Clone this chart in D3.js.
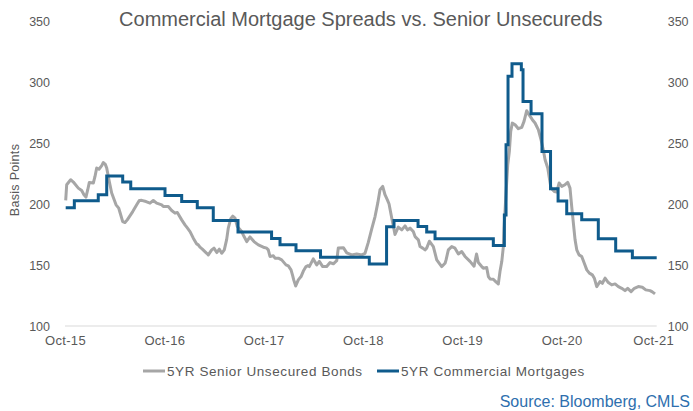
<!DOCTYPE html>
<html>
<head>
<meta charset="utf-8">
<script src="https://cdn.jsdelivr.net/npm/d3@7"></script>
<style>
  body { margin: 0; background: #fff; }
  svg { display: block; font-family: "Liberation Sans", Arial, sans-serif; }
</style>
</head>
<body>
<div id="chart"></div>
<script>
// dates are decimal years (2015.75 = Oct-15)
const unsecuredDates = [2015.757, 2015.767, 2015.807, 2015.834, 2015.884, 2015.918, 2015.941, 2015.961, 2015.979, 2015.995,
  2016.035, 2016.052, 2016.069, 2016.092, 2016.120, 2016.136, 2016.156, 2016.170, 2016.196, 2016.220,
  2016.264, 2016.291, 2016.304, 2016.331, 2016.354, 2016.377, 2016.432, 2016.472, 2016.498, 2016.522,
  2016.566, 2016.606, 2016.639, 2016.673, 2016.724, 2016.740, 2016.790, 2016.824, 2016.858, 2016.881,
  2016.925, 2016.958, 2016.976, 2017.009, 2017.042, 2017.076, 2017.092, 2017.109, 2017.133, 2017.177,
  2017.193, 2017.227, 2017.250, 2017.278, 2017.304, 2017.328, 2017.354, 2017.378, 2017.394, 2017.419,
  2017.439, 2017.462, 2017.485, 2017.529, 2017.553, 2017.580, 2017.613, 2017.653, 2017.697, 2017.747,
  2017.781, 2017.797, 2017.814, 2017.848, 2017.865, 2017.898, 2017.932, 2017.975, 2017.999, 2018.026,
  2018.043, 2018.053, 2018.073, 2018.099, 2018.127, 2018.150, 2018.177, 2018.197, 2018.210, 2018.250,
  2018.285, 2018.311, 2018.345, 2018.385, 2018.419, 2018.452, 2018.486, 2018.502, 2018.553, 2018.587,
  2018.637, 2018.687, 2018.738, 2018.771, 2018.804, 2018.838, 2018.872, 2018.899, 2018.922, 2018.949,
  2018.972, 2018.996, 2019.013, 2019.040, 2019.073, 2019.106, 2019.141, 2019.174, 2019.197, 2019.224,
  2019.257, 2019.275, 2019.308, 2019.325, 2019.352, 2019.375, 2019.392, 2019.419, 2019.459, 2019.493,
  2019.543, 2019.577, 2019.587, 2019.610, 2019.644, 2019.677, 2019.711, 2019.745, 2019.778, 2019.828,
  2019.869, 2019.894, 2019.912, 2019.946, 2019.962, 2019.996, 2020.013, 2020.030, 2020.063, 2020.087,
  2020.113, 2020.130, 2020.148, 2020.164, 2020.171, 2020.188, 2020.208, 2020.224, 2020.238, 2020.254,
  2020.282, 2020.315, 2020.349, 2020.372, 2020.399, 2020.422, 2020.456, 2020.483, 2020.516, 2020.543,
  2020.566, 2020.584, 2020.611, 2020.627, 2020.644, 2020.677, 2020.701, 2020.725, 2020.752, 2020.785,
  2020.812, 2020.835, 2020.852, 2020.869, 2020.886, 2020.903, 2020.926, 2020.953, 2020.979, 2021.004,
  2021.030, 2021.060, 2021.080, 2021.104, 2021.137, 2021.161, 2021.188, 2021.221, 2021.255, 2021.289,
  2021.322, 2021.356, 2021.389, 2021.416, 2021.450, 2021.483, 2021.523, 2021.563, 2021.598, 2021.641,
  2021.664, 2021.691];
const unsecuredValues = [203, 215.8, 219.9, 218, 213, 211, 207.6, 205.7, 211.7, 217.7,
  217.2, 222.6, 229.5, 228.5, 231.4, 234, 232.5, 229.5, 218.5, 209,
  199.3, 196.6, 193, 185.6, 184.8, 187, 193.8, 199.3, 202.9, 203,
  202, 200.7, 202.9, 200.7, 199.3, 198, 198, 194.7, 192.5, 193,
  187, 182.9, 181, 177.4, 172, 167.3, 166.5, 164.6, 163, 159.6,
  158.3, 162.4, 163.8, 160.2, 163, 159.6, 162.4, 171, 180.2, 188,
  190, 188.4, 181.5, 177.4, 173.3, 169.2, 173, 169.2, 166.5, 164.6,
  163.8, 162.4, 157, 157.5, 155.6, 155.6, 154.2, 150.1, 149.3, 146,
  141.1, 137.8, 132.8, 137.8, 140.5, 145, 148.7, 149.5, 148.7, 155,
  150.1, 153, 148.7, 148.7, 152, 151, 153.5, 164, 164.2, 160,
  158.3, 159, 158.3, 159.6, 168.5, 179.5, 189.7, 200.7, 211.7, 214.4,
  207.6, 203.4, 200, 188.5, 175, 181, 178.8, 182.1, 178.8, 180.2,
  177.4, 173.3, 170.6, 165.1, 163.8, 162.4, 163.8, 169.5, 165.1, 154.2,
  148.7, 151.4, 154.2, 162.4, 165.1, 163.8, 159, 161, 157, 153,
  149, 159, 152, 148.7, 147.4, 148, 140.5, 138.6, 138.3, 136.4,
  134.4, 144.6, 152.8, 165, 180, 204.8, 232.2, 243, 259.5, 266.3,
  265, 261.7, 262.8, 267.7, 276.5, 273.2, 269.1, 266.4, 260.9, 252.7,
  244.5, 236.3, 229.5, 221.3, 213, 210.3, 209.8, 217.2, 214.4, 215.8,
  217.7, 213, 198, 184.3, 170.6, 162.4, 158.3, 156.9, 151.4, 146,
  143.3, 141.9, 139.2, 132.3, 136.4, 135, 139.2, 135.6, 133.7, 134.5,
  132.3, 130.9, 129, 130.9, 128.2, 130.9, 132.3, 131.8, 129.6, 129,
  128, 126.3];

// commercial mortgage spread: value holds from each date until the next
const mortgageDates = [2015.757, 2015.844, 2016.085, 2016.170, 2016.331, 2016.412, 2016.757, 2016.925, 2017.082, 2017.243,
  2017.492, 2017.830, 2017.915, 2018.076, 2018.323, 2018.814, 2018.988, 2019.063, 2019.305, 2019.392,
  2019.476, 2020.063, 2020.174, 2020.191, 2020.211, 2020.251, 2020.345, 2020.362, 2020.443, 2020.553,
  2020.639, 2020.715, 2020.802, 2020.953, 2021.120, 2021.295, 2021.463, 2021.708];
const mortgageValues = [197, 202.6, 207.5, 223, 218, 212.5, 207, 202, 197, 186.5,
  177, 171.7, 166.5, 161.7, 156.4, 150.8, 181.3, 186.5, 181.5, 177,
  171.5, 166, 191, 248.6, 304.7, 315, 310, 284, 274, 243,
  212.5, 202.5, 192, 187, 171.5, 161.5, 156, 156];

const xTickDates = [2015.75, 2016.75, 2017.75, 2018.75, 2019.75, 2020.75, 2021.672];
const xTickLabels = ['Oct-15', 'Oct-16', 'Oct-17', 'Oct-18', 'Oct-19', 'Oct-20', 'Oct-21'];
const yTicks = [100, 150, 200, 250, 300, 350];

const width = 693, height = 411;
const plotLeft = 65, plotRight = 656.7, plotTop = 21, plotBottom = 326;

const svg = d3.select('#chart').append('svg')
    .attr('width', width)
    .attr('height', height);

const x = d3.scaleLinear().domain([2015.75, 2021.708]).range([plotLeft, plotRight]);
const y = d3.scaleLinear().domain([100, 350]).range([plotBottom, plotTop]);

const textColor = '#595959';

// baseline
svg.append('line')
    .attr('x1', plotLeft).attr('x2', plotRight)
    .attr('y1', y(100)).attr('y2', y(100))
    .attr('stroke', '#d9d9d9')
    .attr('stroke-width', 1);

// y labels both sides
const yLeft = svg.append('g').attr('transform', `translate(${plotLeft - 15},0)`)
    .call(d3.axisLeft(y).tickValues(yTicks).tickSize(0).tickPadding(0));
const yRight = svg.append('g').attr('transform', `translate(${plotRight + 11},0)`)
    .call(d3.axisRight(y).tickValues(yTicks).tickSize(0).tickPadding(0));
[yLeft, yRight].forEach(g => {
    g.select('.domain').remove();
    g.selectAll('text')
        .attr('fill', textColor)
        .style('font-size', '12.5px')
        .style('font-family', '"Liberation Sans", Arial, sans-serif');
});

// x labels
const xAxis = svg.append('g').attr('transform', `translate(0,${plotBottom + 10})`)
    .call(d3.axisBottom(x).tickValues(xTickDates).tickSize(0).tickPadding(0)
        .tickFormat((d, i) => xTickLabels[i]));
xAxis.select('.domain').remove();
xAxis.selectAll('text')
    .attr('fill', textColor)
    .style('font-size', '13px')
    .style('letter-spacing', '0.3px')
    .style('font-family', '"Liberation Sans", Arial, sans-serif');

// y title
svg.append('text')
    .attr('transform', `translate(19,180) rotate(-90)`)
    .attr('text-anchor', 'middle')
    .attr('fill', textColor)
    .style('font-size', '12.5px')
    .style('letter-spacing', '0.3px')
    .text('Basis Points');

// title
svg.append('text')
    .attr('x', (plotLeft + plotRight) / 2)
    .attr('y', 26)
    .attr('text-anchor', 'middle')
    .attr('fill', textColor)
    .style('font-size', '20px')
    .text('Commercial Mortgage Spreads vs. Senior Unsecureds');

// series
const unsecured = unsecuredDates.map((d, i) => ({date: d, value: unsecuredValues[i]}));
const mortgages = mortgageDates.map((d, i) => ({date: d, value: mortgageValues[i]}));

svg.append('path')
    .datum(unsecured)
    .attr('fill', 'none')
    .attr('stroke', '#a6a6a6')
    .attr('stroke-width', 3)
    .attr('stroke-linejoin', 'round')
    .attr('d', d3.line().x(d => x(d.date)).y(d => y(d.value)));

svg.append('path')
    .datum(mortgages)
    .attr('fill', 'none')
    .attr('stroke', '#0f5b8c')
    .attr('stroke-width', 3)
    .attr('d', d3.line().x(d => x(d.date)).y(d => y(d.value)).curve(d3.curveStepAfter));

// legend
const legendItems = [
    {label: '5YR Senior Unsecured Bonds', color: '#a6a6a6', x: 143},
    {label: '5YR Commercial Mortgages', color: '#0f5b8c', x: 377}
];
const legend = svg.append('g').attr('transform', 'translate(0,371)');
legend.selectAll('line')
    .data(legendItems)
    .join('line')
    .attr('x1', d => d.x).attr('x2', d => d.x + 22)
    .attr('y1', 0).attr('y2', 0)
    .attr('stroke', d => d.color)
    .attr('stroke-width', 3);
legend.selectAll('text')
    .data(legendItems)
    .join('text')
    .attr('x', d => d.x + 24)
    .attr('y', 4.5)
    .attr('fill', textColor)
    .style('font-size', '13.5px')
    .style('letter-spacing', '0.6px')
    .text(d => d.label);

// source
svg.append('text')
    .attr('x', 690)
    .attr('y', 407)
    .attr('text-anchor', 'end')
    .attr('fill', '#2e6fae')
    .style('font-size', '16px')
    .text('Source: Bloomberg, CMLS');
</script>
</body>
</html>
